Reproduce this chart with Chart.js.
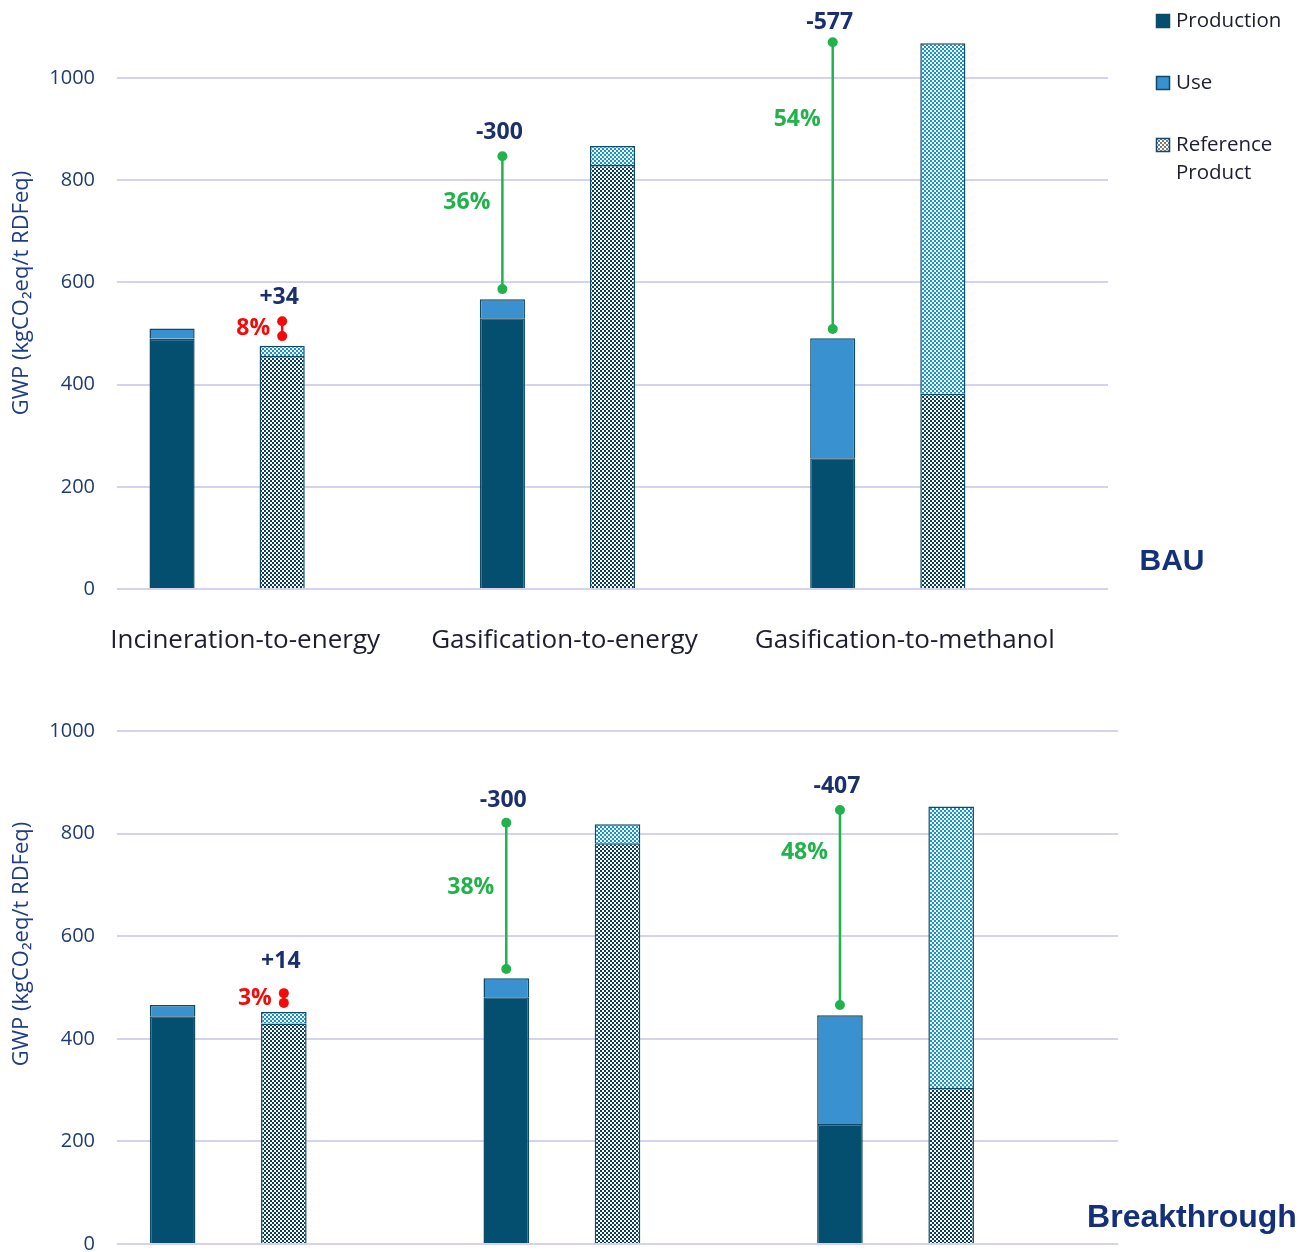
<!DOCTYPE html>
<html>
<head>
<meta charset="utf-8">
<script src="https://cdn.jsdelivr.net/npm/chart.js@4.4.1/dist/chart.umd.min.js"></script>
<style>
  html, body { margin: 0; background: #fff; overflow: hidden; }
  #wrap { position: relative; width: 1305px; height: 1252px; overflow: hidden; }
  canvas { position: absolute; left: 0; }
</style>
</head>
<body>
<div id="wrap">
  <canvas id="bau" style="top:0;width:1305px;height:672px" width="1305" height="672"></canvas>
  <canvas id="brk" style="top:680px;width:1305px;height:578px" width="1305" height="578"></canvas>
</div>
<script>
// bar slots: process bar, reference bar, gap - for each pathway
const slots = ['inc', 'inc-ref', 'gap1', 'gase', 'gase-ref', 'gap2', 'gasm', 'gasm-ref', 'gap3'];
const groups = ['Incineration-to-energy', 'Gasification-to-energy', 'Gasification-to-methanol'];
const yTicks = [0, 200, 400, 600, 800, 1000];

// BAU scenario
const bauProduction = [490, 456, null, 530, 830, null, 256, 382, null];
const bauUse = [20, 20, null, 37, 37, null, 235, 686, null];
const bauGapLow = [495, 587, 509];
const bauGapHigh = [524, 847, 1070];
const bauDiff = ['+34', '-300', '-577'];
const bauShare = ['8%', '36%', '54%'];

// Breakthrough scenario
const brkProduction = [444, 430, null, 481, 781, null, 234, 304, null];
const brkUse = [22, 22, null, 37, 37, null, 212, 549, null];
const brkGapLow = [470, 536, 466];
const brkGapHigh = [489, 821, 846];
const brkDiff = ['+14', '-300', '-407'];
const brkShare = ['3%', '38%', '48%'];

const gapSlots = [1, 3, 6];

const DARK = '#044f70';
const BLUE = '#3992cf';
const NAVY = '#1b2f6e';
const RED = '#f50a0a';
const GREEN = '#22b24c';

function checker(base) {
  const c = document.createElement('canvas');
  c.width = 4; c.height = 4;
  const g = c.getContext('2d');
  g.fillStyle = base; g.fillRect(0, 0, 4, 4);
  g.fillStyle = '#ffffff';
  g.fillRect(0, 0, 2, 2); g.fillRect(2, 2, 2, 2);
  return g.createPattern(c, 'repeat');
}
const hatchDark = checker('#073f5c');
const hatchBlue = checker('#0f95d3');
const hatchGrey = checker('#7a7a7a');

const prodColors = slots.map((s, i) => (i % 3 === 0 ? DARK : hatchDark));
const useColors = slots.map((s, i) => (i % 3 === 0 ? BLUE : hatchBlue));

// dumbbells with the saving labels
const gapPlugin = {
  id: 'gaps',
  afterDatasetsDraw(chart, args, o) {
    const ctx = chart.ctx, x = chart.scales.x, y = chart.scales.y;
    ctx.save();
    ctx.font = 'bold 23px "Open Sans"';
    ctx.textBaseline = 'middle';
    gapSlots.forEach((s, i) => {
      const px = x.getPixelForValue(s);
      const top = y.getPixelForValue(o.high[i]);
      const bot = y.getPixelForValue(o.low[i]);
      ctx.fillStyle = NAVY;
      ctx.textAlign = 'center';
      ctx.fillText(o.diff[i], px - 3, top - o.lift[i]);
      ctx.fillStyle = i === 0 ? RED : GREEN;
      ctx.textAlign = 'right';
      ctx.fillText(o.share[i], px - 12, top + o.at[i] * (bot - top));
    });
    ctx.restore();
  }
};

const textPlugin = {
  id: 'texts',
  afterDraw(chart, args, o) {
    const ctx = chart.ctx, x = chart.scales.x;
    ctx.save();
    ctx.textBaseline = 'middle';

    // y axis title with subscript
    ctx.save();
    ctx.translate(22, o.titleY);
    ctx.rotate(-Math.PI / 2);
    ctx.fillStyle = '#1f3c88';
    ctx.textAlign = 'center';
    ctx.font = '22px "Open Sans"';
    ctx.fillText('GWP (kgCO₂eq/t RDFeq)', 0, 0);
    ctx.restore();

    if (o.groupY) {
      ctx.font = '26px "Open Sans"';
      ctx.fillStyle = '#1d1d30';
      ctx.textAlign = 'center';
      groups.forEach((g, i) => {
        const mid = (x.getPixelForValue(i * 3) + x.getPixelForValue(i * 3 + 1)) / 2;
        ctx.fillText(g, mid + o.groupShift[i], o.groupY);
      });
    }
    if (o.legend) {
      const items = [
        { text: ['Production'], fill: DARK },
        { text: ['Use'], fill: BLUE },
        { text: ['Reference', 'Product'], fill: hatchGrey }
      ];
      ctx.font = '20.5px "Open Sans"';
      ctx.textAlign = 'left';
      items.forEach((it, i) => {
        const cy = 21 + i * 62;
        ctx.fillStyle = it.fill;
        ctx.fillRect(1156, cy - 7, 14, 14);
        ctx.strokeStyle = '#0f4a66';
        ctx.lineWidth = 1.5;
        ctx.strokeRect(1156.5, cy - 6.5, 13, 13);
        ctx.fillStyle = '#1d1d30';
        it.text.forEach((t, k) => ctx.fillText(t, 1176, cy + k * 28));
      });
    }
    ctx.font = 'bold ' + o.captionSize + 'px "Liberation Sans"';
    ctx.fillStyle = '#14307a';
    ctx.textAlign = 'center';
    ctx.fillText(o.caption, o.captionX, o.captionY);
    ctx.restore();
  }
};

function gapSets(low, high) {
  return gapSlots.map((s, i) => ({
    type: 'line',
    yAxisID: 'yl',
    data: [{ x: slots[s], y: low[i] }, { x: slots[s], y: high[i] }],
    borderColor: i === 0 ? RED : GREEN,
    backgroundColor: i === 0 ? RED : GREEN,
    borderWidth: 2.5,
    pointRadius: 5,
    pointBorderWidth: 0,
    pointHoverRadius: 5
  }));
}

function makeChart(id, prod, use, low, high, diff, share, cfg) {
  const yAxis = {
    stacked: true, min: 0, max: cfg.max,
    afterBuildTicks: s => { s.ticks = yTicks.map(v => ({ value: v })); },
    afterFit: s => { s.width = 117; },
    border: { display: false },
    grid: { color: '#d5d2f0', lineWidth: 2, drawTicks: true, tickLength: 20, tickColor: 'rgba(0,0,0,0)' },
    ticks: {
      padding: 2, color: '#1f3b73', font: { family: 'Open Sans', size: 20 },
      callback: v => String(v)
    }
  };
  return new Chart(document.getElementById(id), {
    type: 'bar',
    data: {
      labels: slots,
      datasets: [
        { label: 'Production', data: prod, backgroundColor: prodColors },
        { label: 'Use', data: use, backgroundColor: useColors },
        ...gapSets(low, high)
      ]
    },
    options: {
      responsive: false,
      animation: false,
      events: [],
      layout: { padding: cfg.padding },
      datasets: {
        bar: {
          barPercentage: 0.41, categoryPercentage: 1,
          borderColor: '#0f4a66', borderWidth: 1.5
        }
      },
      scales: {
        x: { stacked: true, display: false },
        y: yAxis,
        yl: { display: false, min: 0, max: cfg.max }
      },
      plugins: {
        legend: { display: false },
        tooltip: { enabled: false },
        gaps: { low, high, diff, share, at: cfg.shareAt, lift: cfg.diffLift },
        texts: cfg.texts
      }
    },
    plugins: [gapPlugin, textPlugin]
  });
}

makeChart('bau', bauProduction, bauUse, bauGapLow, bauGapHigh, bauDiff, bauShare, {
  max: 1100,
  shareAt: [0.5, 0.35, 0.27],
  diffLift: [24, 24, 20],
  padding: { top: 27, bottom: 83, right: 197, left: 0 },
  texts: {
    titleY: 293, groupY: 641, groupShift: [18, 7, 17], legend: true,
    caption: 'BAU', captionSize: 30, captionX: 1172, captionY: 562
  }
});

makeChart('brk', brkProduction, brkUse, brkGapLow, brkGapHigh, brkDiff, brkShare, {
  max: 1000,
  shareAt: [0.5, 0.44, 0.22],
  diffLift: [32, 22, 24],
  padding: { top: 51, bottom: 14, right: 187, left: 0 },
  texts: { titleY: 264, caption: 'Breakthrough', captionSize: 32, captionX: 1192, captionY: 538 }
});
</script>
</body>
</html>
